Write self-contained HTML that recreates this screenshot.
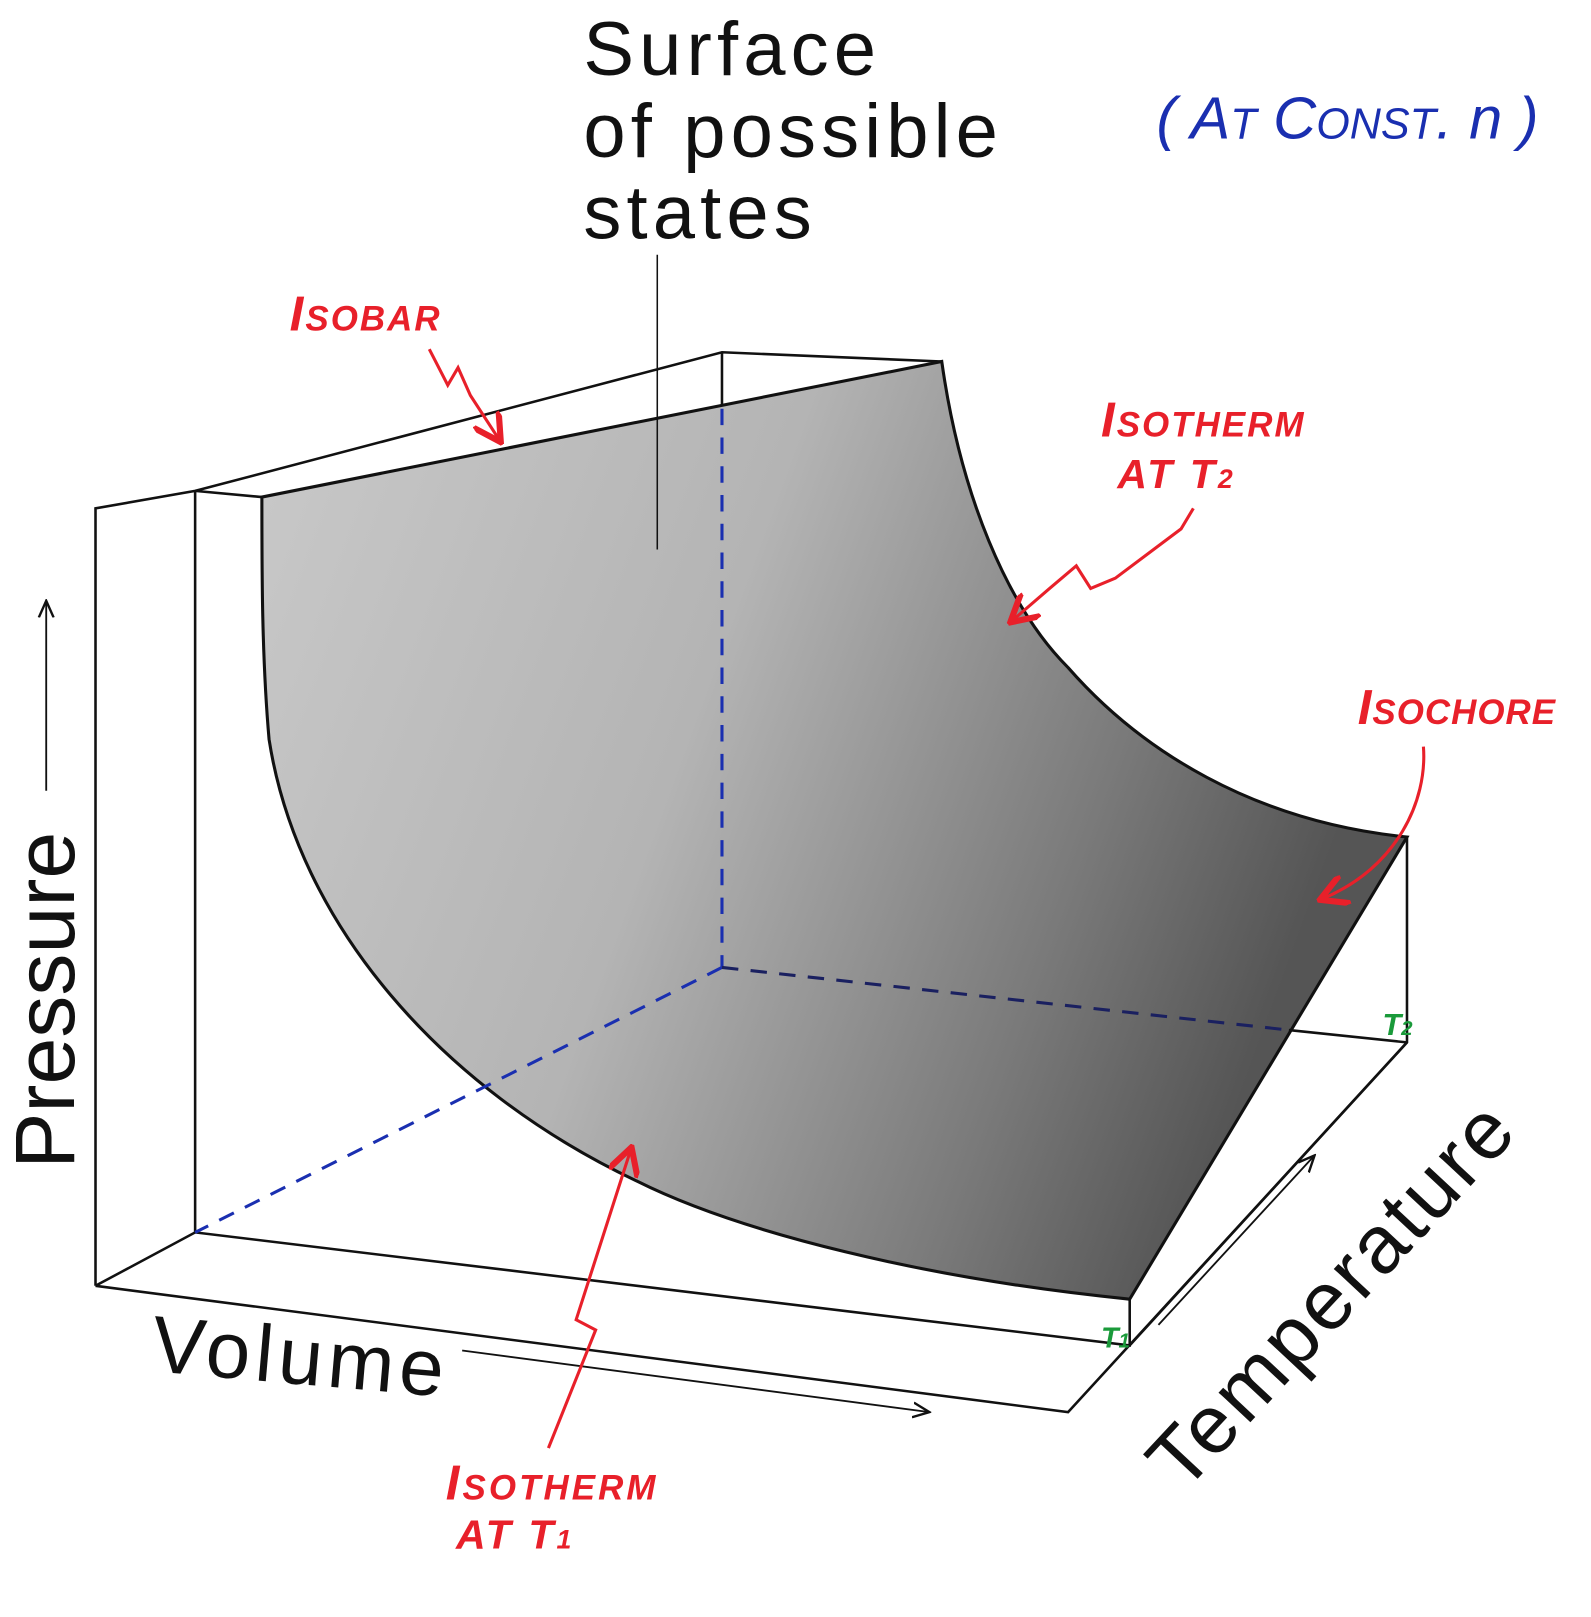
<!DOCTYPE html>
<html><head><meta charset="utf-8"><style>
html,body{margin:0;padding:0;background:#fff;}
svg{display:block;}
.h{font-family:"Liberation Sans",sans-serif;fill:#111;}
.r{font-family:"Liberation Sans",sans-serif;fill:#e8202a;font-style:italic;font-weight:bold;}
</style></head><body>
<svg width="1591" height="1617" viewBox="0 0 1591 1617" xmlns="http://www.w3.org/2000/svg">
<defs>
<linearGradient id="g" x1="0" y1="0" x2="1" y2="0.3">
<stop offset="0" stop-color="#c9c9c9"/>
<stop offset="0.45" stop-color="#b4b4b4"/>
<stop offset="0.8" stop-color="#7a7a7a"/>
<stop offset="1" stop-color="#555"/>
</linearGradient>
<marker id="ah" markerWidth="10" markerHeight="10" refX="9" refY="5" orient="auto"><path d="M0,1 L9,5 L0,9" fill="none" stroke="#111" stroke-width="1.3"/></marker>
<marker id="rh" markerWidth="10" markerHeight="10" refX="8" refY="5" orient="auto"><path d="M0,0 L9,5 L0,10" fill="none" stroke="#e8202a" stroke-width="2"/></marker>
</defs>
<g transform="scale(1.027)">
<path d="M255,484 L917,352 C935,480 980,590 1040,650 C1110,730 1220,800 1370,815 L1100,1265 C900,1245 720,1200 620,1150 C430,1060 290,900 262,720 C255,640 255,560 255,484 Z" fill="url(#g)" stroke="#111" stroke-width="3"/>
<g stroke="#111" stroke-width="2.5" fill="none">
<path d="M93,1252 L93,495 L190,478 L703,343 L917,352"/>
<path d="M190,478 L255,484"/>
<path d="M190,478 L190,1200"/>
<path d="M703,343 L703,395"/>
<path d="M93,1252 L190,1200 L1100,1310 L1100,1265"/>
<path d="M93,1252 L1040,1375 L1370,1015 L1370,815"/>
<path d="M1100,1310 L1370,1015"/>
<path d="M1255,1003 L1370,1015"/>
<path d="M640,248 L640,535" stroke-width="1.5"/>
</g>
<g stroke="#1a2fb0" stroke-width="3" stroke-dasharray="16,12" fill="none">
<path d="M703,398 L703,942"/>
<path d="M703,942 L190,1200"/>
<path d="M703,942 L1255,1003" stroke="#1a2060"/>
</g>
<g stroke="#111" stroke-width="1.8" fill="none">
<path d="M45,770 L45,585" marker-end="url(#ah)"/>
<path d="M450,1315 L905,1375" marker-end="url(#ah)"/>
<path d="M1128,1290 L1280,1125" marker-end="url(#ah)"/>
</g>
<text class="h" font-size="74" letter-spacing="5" x="568" y="73">Surface</text>
<text class="h" font-size="74" letter-spacing="5" x="568" y="153">of possible</text>
<text class="h" font-size="74" letter-spacing="5" x="568" y="232">states</text>
<text class="h" font-size="82" transform="translate(72,1138) rotate(-90)">Pressure</text>
<text class="h" font-size="78" letter-spacing="5" transform="translate(146,1335) rotate(5)">Volume</text>
<text class="h" font-size="80" letter-spacing="3" transform="translate(1152,1455) rotate(-47)">Temperature</text>
<text font-family="Liberation Sans,sans-serif" font-style="italic" font-size="58" fill="#1a2fb0" x="1126" y="135">( A<tspan font-size="42">T</tspan> C<tspan font-size="42">ONST</tspan>. n )</text>
<text class="r" font-size="48" letter-spacing="2" x="282" y="322">I<tspan font-size="34">SOBAR</tspan></text>
<text class="r" font-size="48" letter-spacing="2" x="1072" y="425">I<tspan font-size="34">SOTHERM</tspan></text>
<text class="r" font-size="40" letter-spacing="3" x="1088" y="475">AT T<tspan font-size="26">2</tspan></text>
<text class="r" font-size="48" letter-spacing="1" x="1322" y="705">I<tspan font-size="34">SOCHORE</tspan></text>
<text class="r" font-size="48" letter-spacing="3" x="434" y="1460">I<tspan font-size="34">SOTHERM</tspan></text>
<text class="r" font-size="40" letter-spacing="3" x="444" y="1508">AT T<tspan font-size="26">1</tspan></text>
<text font-family="Liberation Sans,sans-serif" font-style="italic" font-weight="bold" font-size="30" fill="#1a9a3a" x="1346" y="1008">T<tspan font-size="20">2</tspan></text>
<text font-family="Liberation Sans,sans-serif" font-style="italic" font-weight="bold" font-size="28" fill="#1a9a3a" x="1072" y="1312">T<tspan font-size="20">1</tspan></text>
<g stroke="#e8202a" stroke-width="3" fill="none">
<path d="M418,340 L436,375 L446,358 L458,385 L486,428" marker-end="url(#rh)"/>
<path d="M1162,495 L1150,515 L1086,563 L1062,573 L1048,551 L1022,573 L986,604" marker-end="url(#rh)"/>
<path d="M1386,727 C1390,780 1360,845 1288,875" marker-end="url(#rh)"/>
<path d="M534,1410 L580,1295 L561,1285 L614,1120" marker-end="url(#rh)"/>
</g>
</g>
</svg>
</body></html>
